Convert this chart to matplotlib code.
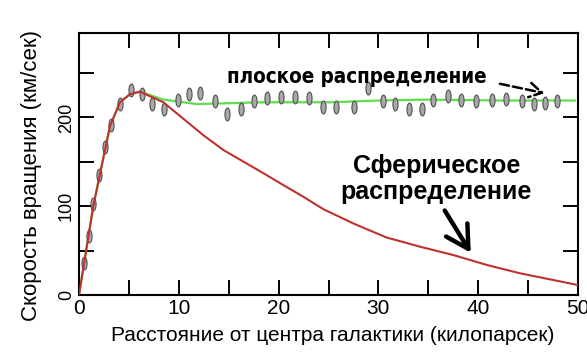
import numpy as np
import matplotlib.pyplot as plt
from matplotlib import font_manager
from matplotlib.path import Path
from matplotlib.transforms import Affine2D

plt.rcParams['font.family'] = ['Liberation Sans', 'DejaVu Sans']

# spherical distribution (red curve)
sph_x = [0, 1.43, 3.1, 4.1, 5.1, 6.1, 8.45, 10.45, 12.45, 14.5, 16.5, 18.5, 20.5,
         22.5, 24.5, 27.5, 30.8, 34.2, 37.5, 40.9, 44.2, 47.5, 50]
sph_y = [0, 100, 190, 217, 226, 229, 217, 198.5, 180, 163, 150, 137, 123.6,
         110.5, 96.5, 80.5, 64.8, 54.3, 45, 33.7, 24.4, 16.9, 11.2]

# flat distribution (green curve)
flat_x = [0, 1.43, 3.1, 4.1, 5.1, 6.1, 8.45, 11.8, 18.4, 25.2, 30, 35, 42, 49.7]
flat_y = [0, 100, 190, 217, 226, 229, 220, 215, 217, 217, 219, 220, 219, 219]

# observed points
obs_x = [0.5, 1.0, 1.4, 2.0, 2.6, 3.2, 4.1, 5.2, 6.3, 7.3, 8.5, 9.9, 11.0, 12.1,
         13.6, 14.8, 16.2, 17.5, 18.8, 20.2, 21.6, 23.0, 24.4, 25.8, 27.6, 29.0,
         30.5, 31.7, 33.1, 34.4, 35.5, 37.0, 38.3, 39.8, 41.4, 42.8, 44.4, 45.6,
         46.7, 47.9]
obs_y = [36, 66, 102, 135, 167, 191, 215, 231, 226, 215, 210, 220, 226, 228,
         219, 204, 210, 218, 222, 223, 223, 222, 212, 212, 212, 233, 218, 215,
         210, 210, 220, 224, 220, 218, 220, 221, 219, 215, 216, 219]

xticks = [0, 10, 20, 30, 40, 50]
yticks = [0, 100, 200]

# look for a condensed bold face for the "flat" caption
narrow = None
for f in font_manager.fontManager.ttflist:
    if ('Narrow' in f.name or 'Condensed' in f.name or f.stretch in ('condensed', 'semi-condensed')) \
            and f.weight in ('bold', 700, 'heavy', 800, 900):
        narrow = f
        break
if narrow is not None:
    flat_font = dict(family=[narrow.name, 'DejaVu Sans'], stretch=narrow.stretch,
                     fontweight='bold', fontsize=14.8)
else:
    flat_font = dict(family=['Liberation Sans', 'DejaVu Sans'], fontweight='bold',
                     fontsize=16)

# vertically elongated ellipse marker
ellipse = Path.unit_circle().transformed(Affine2D().scale(0.4, 1.0))

fig = plt.figure(figsize=(5.87, 3.55), dpi=100)
ax = fig.add_axes([0.1346, 0.169, 0.8501, 0.738])

ax.plot(flat_x, flat_y, color='#5ede4a', lw=1.6, zorder=2)
ax.scatter(obs_x, obs_y, marker=ellipse, s=85, facecolor='#a8a8a8',
           edgecolor='#505050', linewidths=0.8, zorder=3)
ax.plot(sph_x, sph_y, color='#c0302e', lw=1.5, zorder=4)

ax.set_xlim(0, 50)
ax.set_ylim(0, 295)
ax.set_xticks(xticks)
ax.set_xticks(np.arange(5, 50, 10), minor=True)
ax.set_yticks(yticks)
ax.set_yticks([50, 150, 250], minor=True)
ax.tick_params(which='both', direction='in', length=11, width=1.4,
               top=True, right=True, color='black')
ax.tick_params(axis='x', labelsize=15, pad=3)
ax.tick_params(axis='y', labelsize=13, pad=3)
for lab in ax.get_yticklabels():
    lab.set_rotation(90)
    lab.set_va('center')
for sp in ax.spines.values():
    sp.set_linewidth(1.5)

ax.set_xlabel('Расстояние от центра галактики (килопарсек)', fontsize=15)
ax.xaxis.set_label_coords(0.508, -0.153)
ax.xaxis.label.set_va('center')
ax.set_ylabel('Скорость вращения (км/сек)', fontsize=16)
ax.yaxis.set_label_coords(-0.096, 0.458)
ax.yaxis.label.set_va('center')

ax.text(14.8, 239, 'плоское распределение', ha='left', va='baseline',
        zorder=5, **flat_font)
ax.annotate('', xy=(46.9, 226.6), xytext=(41.9, 238.5),
            arrowprops=dict(arrowstyle='->,head_length=0.6,head_width=0.35',
                            ls='--', lw=1.8, color='black', mutation_scale=15))

ax.text(35.8, 131, 'Сферическое\nраспределение', fontsize=18, fontweight='bold',
        ha='center', va='center', linespacing=1.1, zorder=5)
ax.annotate('', xy=(39.4, 44.9), xytext=(36.5, 97.8),
            arrowprops=dict(arrowstyle='->,head_length=0.8,head_width=0.45',
                            lw=3.2, color='black', mutation_scale=20))

fig.savefig('out.png', dpi=100)
